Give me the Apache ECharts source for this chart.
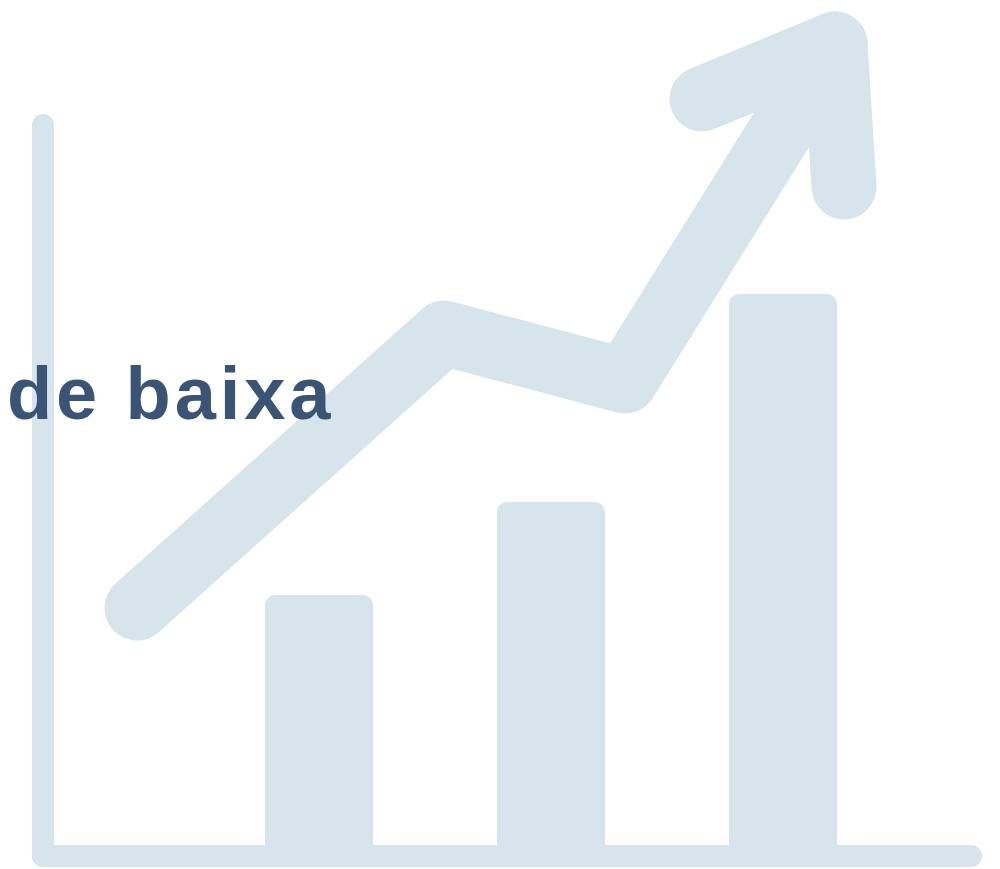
<!DOCTYPE html>
<html>
<head>
<meta charset="utf-8">
<style>
html,body{margin:0;padding:0;background:#fff}
#chart{width:1000px;height:869px}
#chart svg text{letter-spacing:3.9px}
</style>
<script src="https://cdn.jsdelivr.net/npm/echarts@6/dist/echarts.min.js"></script>
</head>
<body>
<div id="chart"></div>
<script>
const titleText = 'de baixa';
const barValues = [[319, 271], [551, 364], [783, 572]];
const trendLine = [[137, 258], [444, 533], [625, 485], [835, 822]];
const arrowHead = [[702, 767], [835, 822], [844, 679]];
const paleBlue = '#D6E4EB';
const navy = '#3A5476';

const chart = echarts.init(document.getElementById('chart'), null, {renderer: 'svg'});
const axisStyle = {show: true, lineStyle: {color: paleBlue, width: 22, cap: 'round'}};
const lineSeries = data => ({
  type: 'line', xAxisIndex: 1, yAxisIndex: 1, data, showSymbol: false, silent: true, clip: false, z: 3,
  lineStyle: {color: paleBlue, width: 65, cap: 'round', join: 'round'}
});
chart.setOption({
  animation: false,
  backgroundColor: '#fff',
  title: {
    text: titleText, left: 7, top: 356, padding: 0,
    textStyle: {fontFamily: '"Liberation Sans"', fontWeight: 'bold', fontSize: 74, color: navy}
  },
  grid: [
    {left: 43, top: 125, width: 928, height: 731},
    {left: 0, top: 0, width: 1000, height: 866}
  ],
  xAxis: [
    {type: 'value', gridIndex: 0, min: 0, max: 100, axisLine: axisStyle, axisTick: {show: false}, axisLabel: {show: false}, splitLine: {show: false}},
    {type: 'value', gridIndex: 1, min: 0, max: 1000, show: false}
  ],
  yAxis: [
    {type: 'value', gridIndex: 0, min: 0, max: 100, axisLine: axisStyle, axisTick: {show: false}, axisLabel: {show: false}, splitLine: {show: false}},
    {type: 'value', gridIndex: 1, min: 0, max: 866, show: false}
  ],
  series: [
    {type: 'bar', xAxisIndex: 1, yAxisIndex: 1, data: barValues, barWidth: 108, silent: true, z: 3,
      itemStyle: {color: paleBlue, borderRadius: 10}},
    lineSeries(trendLine),
    lineSeries(arrowHead)
  ]
});
</script>
</body>
</html>
